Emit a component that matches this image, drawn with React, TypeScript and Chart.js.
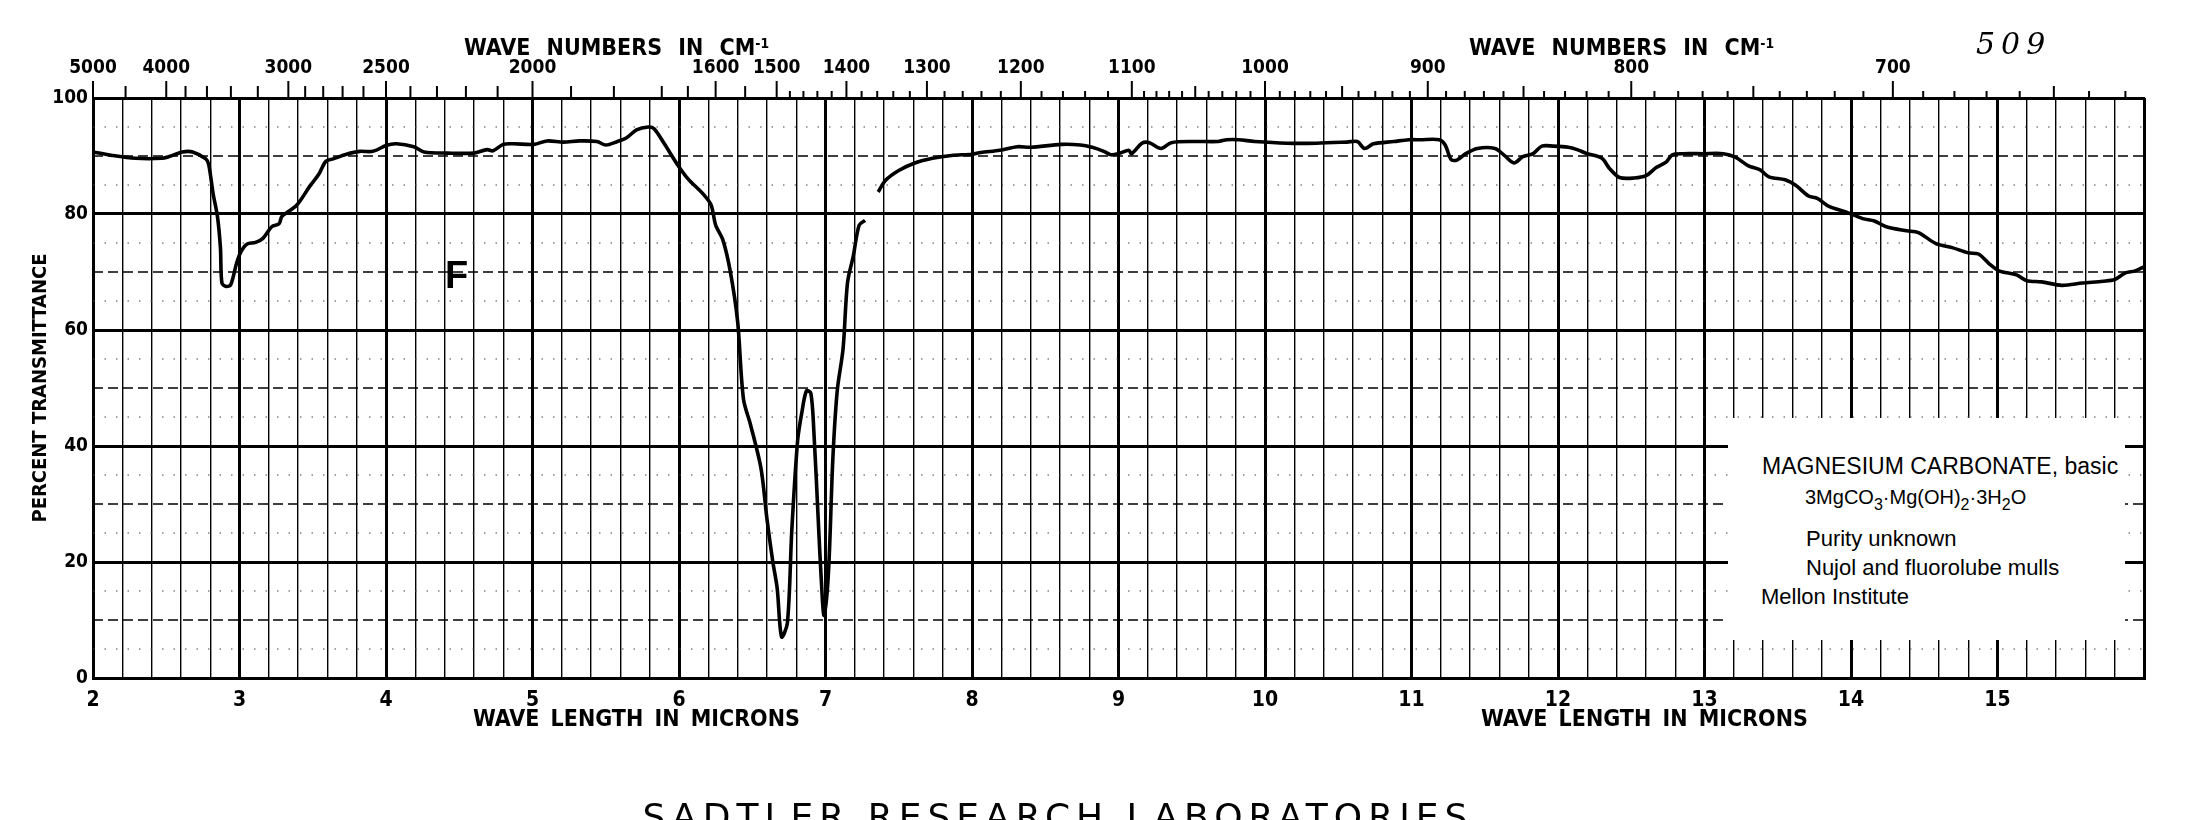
import React, { useEffect, useRef } from "react";
import { Chart, registerables } from "chart.js";
Chart.register(...registerables);

// ---- data (wavelength in microns, % transmittance) ----
const wavelengthMicrons = [
  2.0, 2.13, 2.29, 2.47, 2.52, 2.61, 2.68, 2.77, 2.79, 2.82, 2.85, 2.87, 2.88, 2.91, 2.94, 2.98,
  3.01, 3.05, 3.11, 3.16, 3.22, 3.27, 3.29, 3.39, 3.48, 3.54, 3.59, 3.64, 3.73, 3.82, 3.91,
  4.0, 4.07, 4.19, 4.26, 4.42, 4.6, 4.69, 4.73, 4.8, 4.87, 5.01, 5.1, 5.21, 5.32, 5.44, 5.5,
  5.58, 5.64, 5.71, 5.79, 5.83, 5.9, 5.99, 6.06, 6.17, 6.22, 6.25, 6.3, 6.35, 6.4, 6.44, 6.49,
  6.56, 6.6, 6.64, 6.67, 6.7, 6.74, 6.77, 6.81, 6.84, 6.87, 6.9, 6.92, 6.95, 6.97, 6.99, 7.02,
  7.05, 7.08, 7.12, 7.15, 7.19, 7.23, 7.27, 7.31,
  7.36, 7.41, 7.5, 7.61, 7.73, 7.86, 8.0, 8.06, 8.19, 8.31, 8.4, 8.61, 8.74, 8.82, 8.9, 8.95,
  9.0, 9.07, 9.09, 9.16, 9.21, 9.29, 9.36, 9.52, 9.68, 9.74, 9.82, 9.93, 10.15, 10.35, 10.56,
  10.63, 10.68, 10.74, 10.88, 10.98, 11.06, 11.19, 11.23, 11.27, 11.31, 11.37, 11.45, 11.57,
  11.63, 11.7, 11.76, 11.83, 11.89, 11.97, 12.07, 12.13, 12.2, 12.3, 12.35, 12.42, 12.52, 12.6,
  12.67, 12.74, 12.78, 12.85, 12.99, 13.13, 13.21, 13.3, 13.38, 13.44, 13.55, 13.62, 13.71,
  13.77, 13.85, 13.96, 14.08, 14.16, 14.24, 14.38, 14.46, 14.58, 14.69, 14.8, 14.87, 14.94,
  15.01, 15.13, 15.2, 15.3, 15.44, 15.58, 15.72, 15.8, 15.87, 15.94, 16.0,
];
const transmittance = [
  90.7, 90.1, 89.6, 89.6, 89.9, 90.7, 90.7, 89.5, 88.5, 83.5, 79.5, 74.1, 68.1, 67.5, 67.8, 71.5,
  73.5, 74.8, 75.1, 75.8, 77.8, 78.3, 79.6, 81.5, 84.8, 86.8, 89.1, 89.5, 90.3, 90.8, 90.8,
  91.8, 92.1, 91.6, 90.7, 90.5, 90.5, 91.1, 90.9, 92.0, 92.1, 92.0, 92.6, 92.4, 92.6, 92.5, 91.9,
  92.5, 93.1, 94.5, 95.0, 94.7, 92.1, 88.5, 86.1, 83.3, 81.5, 78.1, 75.5, 70.1, 61.5, 48.1, 43.5,
  36.1, 27.5, 20.1, 15.5, 7.1, 9.5, 25.5, 41.0, 46.0, 49.5, 49.1, 42.8, 27.5, 17.5, 10.8, 18.1,
  37.7, 49.5, 56.8, 68.1, 72.8, 78.1, 78.9, null,
  83.8, 85.8, 87.5, 88.8, 89.6, 90.1, 90.3, 90.6, 91.0, 91.6, 91.5, 92.0, 91.9, 91.5, 90.8, 90.2,
  90.4, 91.0, 90.4, 92.2, 92.3, 91.3, 92.3, 92.5, 92.5, 92.8, 92.8, 92.5, 92.2, 92.2, 92.4,
  92.5, 91.3, 92.1, 92.5, 92.8, 92.8, 92.8, 91.9, 89.4, 89.3, 90.4, 91.3, 91.3,
  90.2, 88.8, 89.9, 90.4, 91.7, 91.7, 91.5, 91.1, 90.4, 89.6, 87.9, 86.3, 86.2, 86.6,
  88.0, 89.0, 90.2, 90.4, 90.4, 90.4, 89.8, 88.3, 87.6, 86.4, 85.9, 85.0, 83.1,
  82.7, 81.3, 80.4, 79.2, 78.8, 77.8, 77.1, 76.8, 74.9, 74.2, 73.3, 73.1, 71.5,
  70.2, 69.5, 68.5, 68.3, 67.7, 68.1, 68.4, 68.7, 69.8, 70.2, 70.9,
];

// ---- axes ----
const micronRange = [2, 16];
const micronGridStep = 0.2;
const bottomTickLabels = ["2", "3", "4", "5", "6", "7", "8", "9", "10", "11", "12", "13", "14", "15"];
const percentRange = [0, 100];
const percentGridStep = 5;
const percentTickLabels = ["0", "20", "40", "60", "80", "100"];
const topWaveNumbers = [
  5000, 4500, 4000, 3800, 3600, 3400, 3200, 3000, 2900, 2800, 2700, 2600, 2500, 2400, 2300, 2200,
  2100, 2000, 1900, 1800, 1700, 1650, 1600, 1550, 1500, 1480, 1460, 1440, 1420, 1400, 1380, 1360,
  1340, 1320, 1300, 1280, 1260, 1240, 1220, 1200, 1180, 1160, 1140, 1120, 1100, 1090, 1080, 1070,
  1060, 1050, 1040, 1030, 1020, 1010, 1000, 990, 980, 970, 960, 950, 940, 930, 920, 910, 900, 890,
  880, 870, 860, 850, 840, 830, 820, 810, 800, 790, 780, 770, 760, 750, 740, 730, 720, 710, 700,
  690, 680, 670, 660, 650, 640, 630,
];
const topLabeledWaveNumbers = [5000, 4000, 3000, 2500, 2000, 1600, 1500, 1400, 1300, 1200, 1100, 1000, 900, 800, 700];

const CONDENSED = '"Liberation Sans Narrow", "DejaVu Sans Condensed", "Liberation Sans", Arial, sans-serif';
const SANS = '"Liberation Sans", Arial, sans-serif';

const isWhole = (v: number) => Math.abs(v - Math.round(v)) < 1e-6;

const minorGridPlugin = {
  id: "minorGrid",
  beforeDatasetsDraw(chart: any) {
    const y = chart.scales.y;
    const { left, right } = chart.chartArea;
    const ctx = chart.ctx;
    ctx.save();
    y.ticks.forEach((t: any) => {
      const v = Math.round(t.value);
      if (v % 20 === 0) return;
      const py = y.getPixelForValue(t.value);
      if (v % 10 === 0) {
        ctx.strokeStyle = "#000";
        ctx.lineWidth = 1.6;
        ctx.setLineDash([10, 5]);
      } else {
        ctx.strokeStyle = "#444";
        ctx.lineWidth = 1;
        ctx.setLineDash([1.5, 10]);
      }
      ctx.beginPath();
      ctx.moveTo(left, py);
      ctx.lineTo(right, py);
      ctx.stroke();
    });
    ctx.restore();
  },
};

const topTickPlugin = {
  id: "topTicks",
  afterDraw(chart: any) {
    const s = chart.scales.x2;
    const top = chart.chartArea.top;
    const ctx = chart.ctx;
    ctx.save();
    ctx.strokeStyle = "#000";
    ctx.lineWidth = 2;
    s.ticks.forEach((t: any, i: number) => {
      const wn = topWaveNumbers[i];
      const len = topLabeledWaveNumbers.includes(wn) ? 17 : wn % 50 === 0 ? 12 : 7;
      const px = s.getPixelForValue(t.value);
      ctx.beginPath();
      ctx.moveTo(px, top + 1);
      ctx.lineTo(px, top - len);
      ctx.stroke();
    });
    ctx.restore();
  },
};

const Txt = ({ x, y, children, style }: any) => (
  <div style={{ position: "absolute", left: x, top: y, whiteSpace: "nowrap", lineHeight: 1, ...style }}>{children}</div>
);

const Sub = ({ children }: any) => (
  <span style={{ fontSize: "0.8em", position: "relative", top: "0.35em" }}>{children}</span>
);

export default function App() {
  const ref = useRef<HTMLCanvasElement | null>(null);

  useEffect(() => {
    if (!ref.current) return;
    const points = wavelengthMicrons.map((x, i) => ({ x, y: transmittance[i] }));
    const chart = new Chart(ref.current, {
      type: "line",
      data: {
        datasets: [
          {
            data: points as any,
            xAxisID: "x",
            yAxisID: "y",
            borderColor: "#000",
            borderWidth: 3.6,
            pointRadius: 0,
            tension: 0.3,
            spanGaps: false,
            fill: false,
          },
        ],
      },
      options: {
        animation: false,
        responsive: false,
        devicePixelRatio: 1,
        layout: { padding: { left: 0, right: 64, top: 0, bottom: 0 } },
        plugins: { legend: { display: false }, tooltip: { enabled: false } },
        scales: {
          x: {
            type: "linear",
            position: "bottom",
            min: micronRange[0],
            max: micronRange[1],
            afterFit: (s: any) => {
              s.height = 142;
            },
            ticks: {
              stepSize: micronGridStep,
              maxTicksLimit: 200,
              autoSkip: false,
              maxRotation: 0,
              minRotation: 0,
              padding: 10,
              color: "#000",
              font: { family: CONDENSED, size: 21, weight: "bold" },
              callback: (v: any) => {
                const n = Number(v);
                if (!isWhole(n)) return "";
                const lbl = String(Math.round(n));
                return bottomTickLabels.includes(lbl) ? lbl : "";
              },
            },
            grid: {
              drawTicks: false,
              color: "#000",
              lineWidth: (c: any) => (c.tick && isWhole(c.tick.value) ? 3 : 1.4),
            },
            border: { display: true, color: "#000", width: 3 },
          },
          x2: {
            type: "linear",
            position: "top",
            min: micronRange[0],
            max: micronRange[1],
            afterFit: (s: any) => {
              s.height = 98;
            },
            afterBuildTicks: (s: any) => {
              s.ticks = topWaveNumbers.map((w) => ({ value: 10000 / w }));
            },
            ticks: {
              autoSkip: false,
              maxRotation: 0,
              minRotation: 0,
              padding: 19,
              color: "#000",
              font: { family: CONDENSED, size: 19, weight: "bold" },
              callback: (_v: any, i: number) => {
                const wn = topWaveNumbers[i];
                return topLabeledWaveNumbers.includes(wn) ? String(wn) : "";
              },
            },
            grid: { display: false, drawTicks: false },
            border: { display: true, color: "#000", width: 3 },
          },
          y: {
            type: "linear",
            min: percentRange[0],
            max: percentRange[1],
            afterFit: (s: any) => {
              s.width = 93;
            },
            ticks: {
              stepSize: percentGridStep,
              maxTicksLimit: 50,
              autoSkip: false,
              padding: 5,
              color: "#000",
              font: { family: CONDENSED, size: 19, weight: "bold" },
              callback: (v: any) => {
                const lbl = String(Math.round(Number(v)));
                return percentTickLabels.includes(lbl) ? lbl : "";
              },
            },
            grid: {
              drawTicks: false,
              color: (c: any) => (c.tick && Math.round(c.tick.value) % 20 === 0 ? "#000" : "rgba(0,0,0,0)"),
              lineWidth: 3,
            },
            border: { display: true, color: "#000", width: 3 },
            title: {
              display: true,
              text: "PERCENT TRANSMITTANCE",
              color: "#000",
              padding: { top: 29, bottom: 0 },
              font: { family: CONDENSED, size: 20, weight: "bold" },
            },
          },
        },
      },
      plugins: [minorGridPlugin, topTickPlugin],
    });
    return () => chart.destroy();
  }, []);

  const bold = { fontFamily: CONDENSED, fontWeight: 700, color: "#000" };
  const legendFont = { fontFamily: SANS, fontSize: 22, color: "#000" };

  return (
    <div style={{ position: "absolute", left: 0, top: 0, width: 2208, height: 820, overflow: "hidden", background: "#fff" }}>
      <canvas ref={ref} width={2208} height={820} style={{ position: "absolute", left: 0, top: 0 }} />

      {/* top axis titles */}
      <Txt x={464} y={36} style={{ ...bold, fontSize: 23, wordSpacing: 9 }}>
        WAVE NUMBERS IN CM<span style={{ fontSize: "0.6em", position: "relative", top: "-0.5em" }}>-1</span>
      </Txt>
      <Txt x={1469} y={36} style={{ ...bold, fontSize: 23, wordSpacing: 9 }}>
        WAVE NUMBERS IN CM<span style={{ fontSize: "0.6em", position: "relative", top: "-0.5em" }}>-1</span>
      </Txt>

      {/* handwritten number */}
      <Txt x={1976} y={29} style={{ fontFamily: '"DejaVu Serif", serif', fontStyle: "italic", fontSize: 30, letterSpacing: 6, color: "#000" }}>
        509
      </Txt>

      {/* bottom axis titles */}
      <Txt x={473} y={707} style={{ ...bold, fontSize: 23, wordSpacing: 4 }}>
        WAVE LENGTH IN MICRONS
      </Txt>
      <Txt x={1481} y={707} style={{ ...bold, fontSize: 23, wordSpacing: 4 }}>
        WAVE LENGTH IN MICRONS
      </Txt>

      {/* region marker */}
      <Txt x={445} y={256} style={{ fontFamily: SANS, fontWeight: 700, fontSize: 38, color: "#000" }}>
        F
      </Txt>

      {/* sample description box */}
      <div style={{ position: "absolute", left: 1728, top: 418, width: 397, height: 222, background: "#fff" }} />
      <Txt x={1762} y={455} style={{ ...legendFont, fontSize: 23 }}>MAGNESIUM CARBONATE, basic</Txt>
      <Txt x={1805} y={487} style={{ ...legendFont, fontSize: 20 }}>
        3MgCO<Sub>3</Sub>·Mg(OH)<Sub>2</Sub>·3H<Sub>2</Sub>O
      </Txt>
      <Txt x={1806} y={528} style={legendFont}>Purity unknown</Txt>
      <Txt x={1806} y={557} style={legendFont}>Nujol and fluorolube mulls</Txt>
      <Txt x={1761} y={586} style={legendFont}>Mellon Institute</Txt>

      {/* footer */}
      <div
        style={{
          position: "absolute",
          left: 558,
          top: 799,
          width: 1000,
          textAlign: "center",
          fontFamily: '"DejaVu Sans", sans-serif',
          fontSize: 36,
          lineHeight: "36px",
          letterSpacing: 6,
          color: "#000",
          whiteSpace: "nowrap",
        }}
      >
        SADTLER RESEARCH LABORATORIES
      </div>
    </div>
  );
}
